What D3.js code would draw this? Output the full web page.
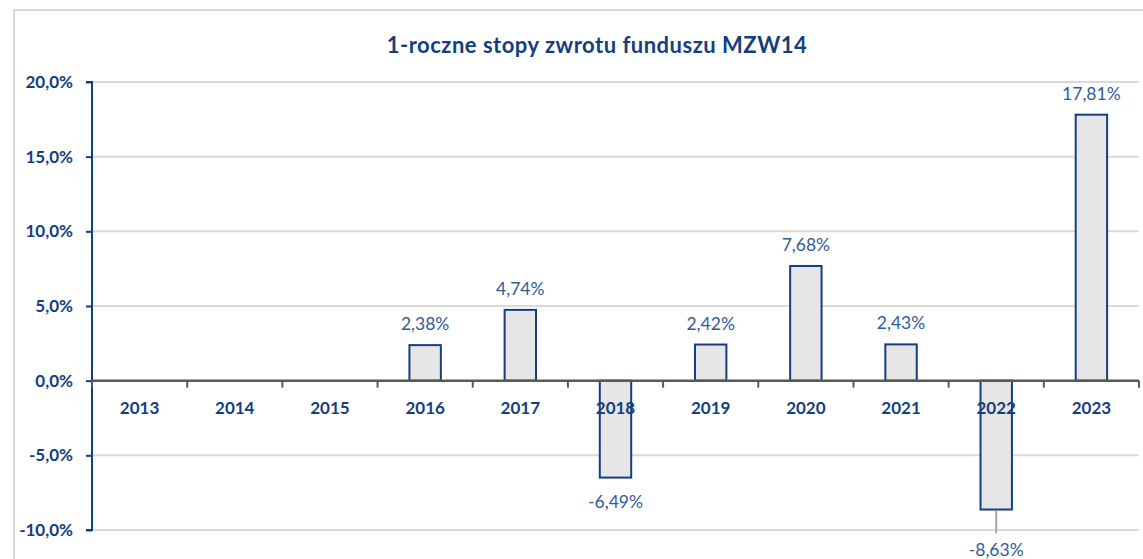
<!DOCTYPE html>
<html><head><meta charset="utf-8">
<script src="https://cdn.jsdelivr.net/npm/d3@7"></script>
<style>html,body{margin:0;padding:0;background:#fff;}svg{display:block;}</style>
</head><body>
<svg id="c" width="1143" height="559"></svg>
<script>
const title = "1-roczne stopy zwrotu funduszu MZW14";
const categories = ["2013","2014","2015","2016","2017","2018","2019","2020","2021","2022","2023"];
const values = [null,null,null,2.38,4.74,-6.49,2.42,7.68,2.43,-8.63,17.81];
const yTicks = [-10,-5,0,5,10,15,20];

const svg = d3.select("#c");
const m = {left:92, right:1139, top:82, bottom:530};
const dark = "#133f7f", labelCol = "#2f5b97";
const font = "Lato, 'Open Sans', sans-serif";
const fix = s => s.replace("\u2212","-").replace(".", ",");
const fmt = v => fix(d3.format(".2f")(v)) + "%";
const fmtAxis = v => fix(d3.format(".1f")(v)) + "%";

svg.append("rect").attr("x",14).attr("y",10).attr("width",1160).attr("height",600)
  .attr("fill","#fff").attr("stroke","#d9d9d9").attr("stroke-width",2);

const x = d3.scaleBand().domain(categories).range([m.left,m.right]).paddingInner(0.67).paddingOuter(0.335);
const xb = d3.scaleBand().domain(categories).range([m.left,m.right]);
const y = d3.scaleLinear().domain([-10,20]).range([m.bottom,m.top]);

// grid
svg.append("g").selectAll("line").data(yTicks.filter(t=>t!==0)).join("line")
  .attr("x1",m.left).attr("x2",m.right).attr("y1",d=>y(d)).attr("y2",d=>y(d))
  .attr("stroke","#d9d9d9").attr("stroke-width",2);

// y axis
const ya = svg.append("g").attr("transform",`translate(${m.left},0)`)
  .call(d3.axisLeft(y).tickValues(yTicks).tickFormat(fmtAxis).tickSize(6).tickPadding(13));
ya.select(".domain").attr("stroke",dark).attr("stroke-width",2).attr("d",`M-6,${y(20)}H0V${y(-10)}H-6`);
ya.selectAll(".tick line").attr("stroke",dark).attr("stroke-width",2);
ya.selectAll(".tick text").attr("fill",dark).style("font-family",font).style("font-size","17px").style("font-weight","bold");

// bars
const data = categories.map((c,i)=>({c, v:values[i]})).filter(d=>d.v!==null);
svg.append("g").selectAll("rect").data(data).join("rect")
  .attr("x",d=>x(d.c)).attr("width",x.bandwidth())
  .attr("y",d=>y(Math.max(0,d.v))).attr("height",d=>Math.abs(y(d.v)-y(0)))
  .attr("fill","#e6e6e6").attr("stroke",dark).attr("stroke-width",2);

// x axis (zero line)
const xa = svg.append("g").attr("transform",`translate(0,${y(0)})`)
  .call(d3.axisBottom(xb).tickSize(0).tickPadding(0).tickFormat(""));
xa.select(".domain").attr("stroke","#595959").attr("stroke-width",2.5).attr("d",`M${m.left},0H${m.right}`);
xa.selectAll(".tick").remove();
const bounds = categories.map(c=>xb(c)).concat([m.right]);
xa.selectAll("line.b").data(bounds).join("line").attr("class","b")
  .attr("x1",d=>d).attr("x2",d=>d).attr("y1",0).attr("y2",7)
  .attr("stroke","#595959").attr("stroke-width",2);

// category labels
svg.append("g").selectAll("text").data(categories).join("text")
  .attr("x",d=>xb(d)+xb.bandwidth()/2).attr("y",y(0)+33)
  .attr("text-anchor","middle").attr("fill",dark)
  .style("font-family",font).style("font-size","17px").style("font-weight","bold")
  .text(d=>d);

// leader line for 2022
const lead = data.filter(d=>d.c==="2022");
svg.append("g").selectAll("line").data(lead).join("line")
  .attr("x1",d=>x(d.c)+x.bandwidth()/2).attr("x2",d=>x(d.c)+x.bandwidth()/2)
  .attr("y1",d=>y(d.v)+1).attr("y2",d=>y(d.v)+24)
  .attr("stroke","#a6a6a6").attr("stroke-width",2);

// data labels
svg.append("g").selectAll("text").data(data).join("text")
  .attr("x",d=>x(d.c)+x.bandwidth()/2)
  .attr("y",d=> d.v>=0 ? y(d.v)-15 : (d.c==="2022" ? y(d.v)+46 : y(d.v)+30))
  .attr("text-anchor","middle").attr("fill",labelCol)
  .style("font-family",font).style("font-size","17.5px")
  .text(d=>fmt(d.v));

// title
svg.append("text").attr("x",597).attr("y",53).attr("text-anchor","middle")
  .attr("fill",dark).style("font-family",font).style("font-size","22px").style("font-weight","bold")
  .style("letter-spacing","0.5px")
  .text(title);
</script>
</body></html>
